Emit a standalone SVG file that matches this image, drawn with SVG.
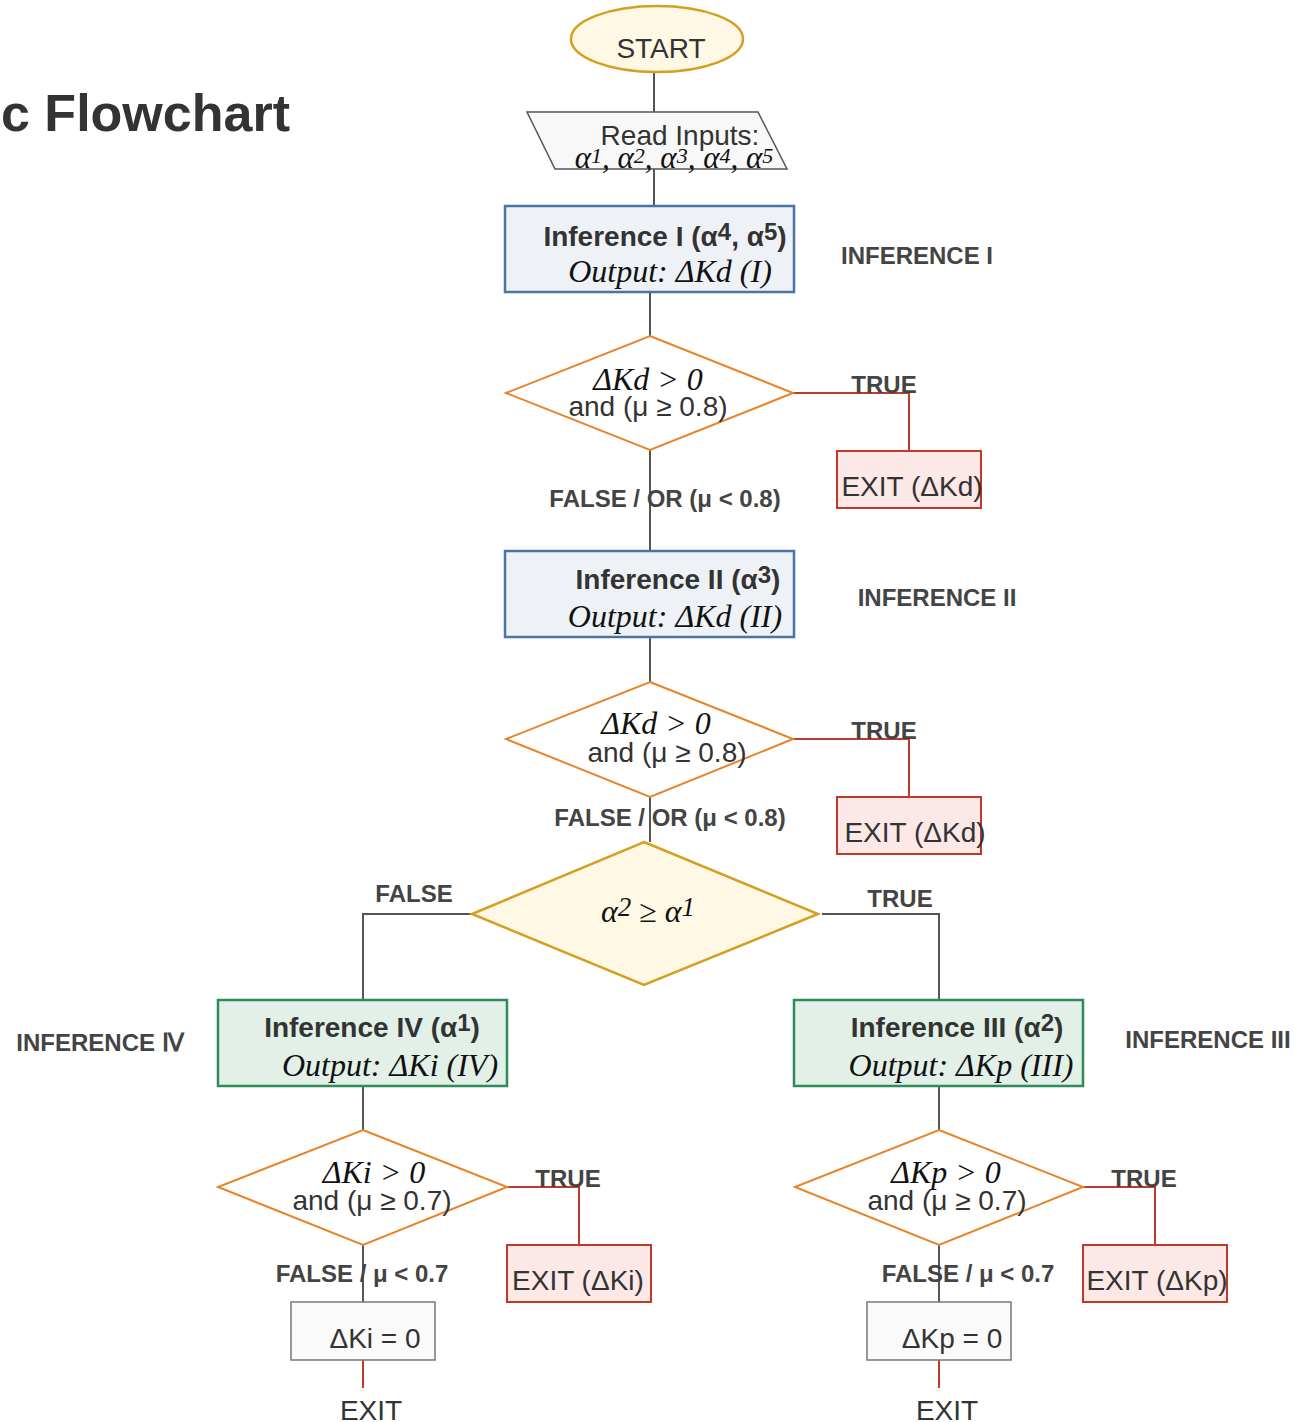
<svg xmlns="http://www.w3.org/2000/svg" width="1294" height="1422" viewBox="0 0 1294 1422">
<style>
.sans{font-family:"Liberation Sans",Arial,sans-serif;fill:#333}
.reg{font-size:28px}
.bold{font-weight:bold}
.hdr{font-size:28px;font-weight:bold}
.lbl{font-size:24px;font-weight:bold;fill:#444}
.serif{font-family:"Liberation Serif","Times New Roman",serif;font-style:italic;fill:#111}
.out{font-size:32px}
.conn{stroke:#555;stroke-width:2;fill:none}
.red{stroke:#c0392b;stroke-width:2;fill:none}
.dec{fill:#fff;stroke:#e8832a;stroke-width:2}
.blue{fill:#eef2f6;stroke:#4a74a8;stroke-width:2.5}
.green{fill:#e2f0e8;stroke:#2e8b5a;stroke-width:2.5}
.exit{fill:#fde8e8;stroke:#c0392b;stroke-width:2}
.zero{fill:#fafafa;stroke:#777;stroke-width:1.5}
.yel{fill:#fff8e5;stroke:#d4a020;stroke-width:2.5}
</style>
<rect width="1294" height="1422" fill="#fff"/>
<text class="sans bold" x="1" y="131" font-size="52">c Flowchart</text>

<g id="connectors">
<path class="conn" d="M654 73V112"/>
<path class="conn" d="M654 169V206"/>
<path class="conn" d="M650 292V336"/>
<path class="conn" d="M650 450V551"/>
<path class="conn" d="M650 637V682"/>
<path class="conn" d="M650 797V842"/>
<path class="red" d="M793 393H909V451"/>
<path class="red" d="M793 739H909V797"/>
<path class="conn" d="M472 914H363V1000"/>
<path class="conn" d="M822 914H939V1000"/>
<path class="conn" d="M363 1086V1130"/>
<path class="conn" d="M939 1086V1130"/>
<path class="red" d="M507 1187H579V1245"/>
<path class="red" d="M1083 1187H1155V1245"/>
<path class="conn" d="M363 1245V1302"/>
<path class="conn" d="M939 1245V1302"/>
<path class="red" d="M363 1360V1388"/>
<path class="red" d="M939 1360V1388"/>
<text class="sans lbl" x="884" y="393" text-anchor="middle">TRUE</text>
<text class="sans lbl" x="884" y="739" text-anchor="middle">TRUE</text>
<text class="sans lbl" x="665" y="507" text-anchor="middle">FALSE / OR (μ &lt; 0.8)</text>
<text class="sans lbl" x="670" y="826" text-anchor="middle">FALSE / OR (μ &lt; 0.8)</text>
<text class="sans lbl" x="414" y="902" text-anchor="middle">FALSE</text>
<text class="sans lbl" x="900" y="907" text-anchor="middle">TRUE</text>
<text class="sans lbl" x="568" y="1187" text-anchor="middle">TRUE</text>
<text class="sans lbl" x="1144" y="1187" text-anchor="middle">TRUE</text>
<text class="sans lbl" x="362" y="1282" text-anchor="middle">FALSE / μ &lt; 0.7</text>
<text class="sans lbl" x="968" y="1282" text-anchor="middle">FALSE / μ &lt; 0.7</text>
</g>

<g id="start">
<ellipse class="yel" cx="657" cy="39" rx="86" ry="33"/>
<text class="sans reg" x="661" y="58" text-anchor="middle">START</text>
</g>

<g id="read-inputs">
<polygon points="527,112 758,112 787,169 555,169" fill="#f8f8f8" stroke="#555" stroke-width="1.5"/>
<text class="sans reg" x="680" y="145" text-anchor="middle">Read Inputs:</text>
<text class="serif" x="674" y="168" font-size="31" text-anchor="middle">α<tspan font-size="22" dy="-5">1</tspan><tspan dy="5">, α</tspan><tspan font-size="22" dy="-5">2</tspan><tspan dy="5">, α</tspan><tspan font-size="22" dy="-5">3</tspan><tspan dy="5">, α</tspan><tspan font-size="22" dy="-5">4</tspan><tspan dy="5">, α</tspan><tspan font-size="22" dy="-5">5</tspan></text>
</g>

<g id="inference-1">
<rect class="blue" x="505" y="206" width="289" height="86"/>
<text class="sans hdr" x="665" y="246" text-anchor="middle">Inference I (α<tspan font-size="24" dy="-6">4</tspan><tspan dy="6">, α</tspan><tspan font-size="24" dy="-6">5</tspan><tspan dy="6">)</tspan></text>
<text class="serif out" x="670" y="282" text-anchor="middle">Output: ΔKd (I)</text>
<text class="sans lbl" x="917" y="264" text-anchor="middle">INFERENCE I</text>
</g>

<g id="decision-1">
<polygon class="dec" points="650,336 793,393 650,450 506,393"/>
<text class="serif out" x="648" y="390" text-anchor="middle">ΔKd &gt; 0</text>
<text class="sans reg" x="648" y="416" text-anchor="middle">and (μ ≥ 0.8)</text>
</g>

<g id="exit-kd-1">
<rect class="exit" x="837" y="451" width="144" height="57"/>
<text class="sans reg" x="912" y="496" text-anchor="middle">EXIT (ΔKd)</text>
</g>

<g id="inference-2">
<rect class="blue" x="505" y="551" width="289" height="86"/>
<text class="sans hdr" x="678" y="589" text-anchor="middle">Inference II (α<tspan font-size="24" dy="-6">3</tspan><tspan dy="6">)</tspan></text>
<text class="serif out" x="675" y="627" text-anchor="middle">Output: ΔKd (II)</text>
<text class="sans lbl" x="937" y="606" text-anchor="middle">INFERENCE II</text>
</g>

<g id="decision-2">
<polygon class="dec" points="650,682 793,739 650,797 506,739"/>
<text class="serif out" x="656" y="734" text-anchor="middle">ΔKd &gt; 0</text>
<text class="sans reg" x="667" y="762" text-anchor="middle">and (μ ≥ 0.8)</text>
</g>

<g id="exit-kd-2">
<rect class="exit" x="837" y="797" width="144" height="57"/>
<text class="sans reg" x="915" y="842" text-anchor="middle">EXIT (ΔKd)</text>
</g>

<g id="decision-alpha">
<polygon class="yel" points="644,842 818,914 644,985 472,914"/>
<text class="serif out" x="648" y="922" text-anchor="middle">α<tspan font-size="27" dy="-6">2</tspan><tspan dy="6"> ≥ α</tspan><tspan font-size="27" dy="-6">1</tspan></text>
</g>

<g id="inference-4">
<rect class="green" x="218" y="1000" width="289" height="86"/>
<text class="sans hdr" x="372" y="1037" text-anchor="middle">Inference IV (α<tspan font-size="24" dy="-6">1</tspan><tspan dy="6">)</tspan></text>
<text class="serif out" x="390" y="1076" text-anchor="middle">Output: ΔKi (IV)</text>
<text class="sans lbl" x="100" y="1051" text-anchor="middle">INFERENCE Ⅳ</text>
</g>

<g id="inference-3">
<rect class="green" x="794" y="1000" width="289" height="86"/>
<text class="sans hdr" x="957" y="1037" text-anchor="middle">Inference III (α<tspan font-size="24" dy="-6">2</tspan><tspan dy="6">)</tspan></text>
<text class="serif out" x="961" y="1076" text-anchor="middle">Output: ΔKp (III)</text>
<text class="sans lbl" x="1208" y="1048" text-anchor="middle">INFERENCE III</text>
</g>

<g id="decision-ki">
<polygon class="dec" points="363,1130 507,1187 363,1245 218,1187"/>
<text class="serif out" x="374" y="1183" text-anchor="middle">ΔKi &gt; 0</text>
<text class="sans reg" x="372" y="1210" text-anchor="middle">and (μ ≥ 0.7)</text>
</g>

<g id="decision-kp">
<polygon class="dec" points="939,1130 1083,1187 939,1245 795,1187"/>
<text class="serif out" x="946" y="1183" text-anchor="middle">ΔKp &gt; 0</text>
<text class="sans reg" x="947" y="1210" text-anchor="middle">and (μ ≥ 0.7)</text>
</g>

<g id="exit-ki">
<rect class="exit" x="507" y="1245" width="144" height="57"/>
<text class="sans reg" x="578" y="1290" text-anchor="middle">EXIT (ΔKi)</text>
</g>

<g id="exit-kp">
<rect class="exit" x="1083" y="1245" width="144" height="57"/>
<text class="sans reg" x="1157" y="1290" text-anchor="middle">EXIT (ΔKp)</text>
</g>

<g id="ki-zero">
<rect class="zero" x="291" y="1302" width="144" height="58"/>
<text class="sans reg" x="375" y="1348" text-anchor="middle">ΔKi = 0</text>
</g>

<g id="kp-zero">
<rect class="zero" x="867" y="1302" width="144" height="58"/>
<text class="sans reg" x="952" y="1348" text-anchor="middle">ΔKp = 0</text>
</g>

<g id="exit-left">
<text class="sans reg" x="371" y="1420" text-anchor="middle">EXIT</text>
</g>
<g id="exit-right">
<text class="sans reg" x="947" y="1420" text-anchor="middle">EXIT</text>
</g>
</svg>
